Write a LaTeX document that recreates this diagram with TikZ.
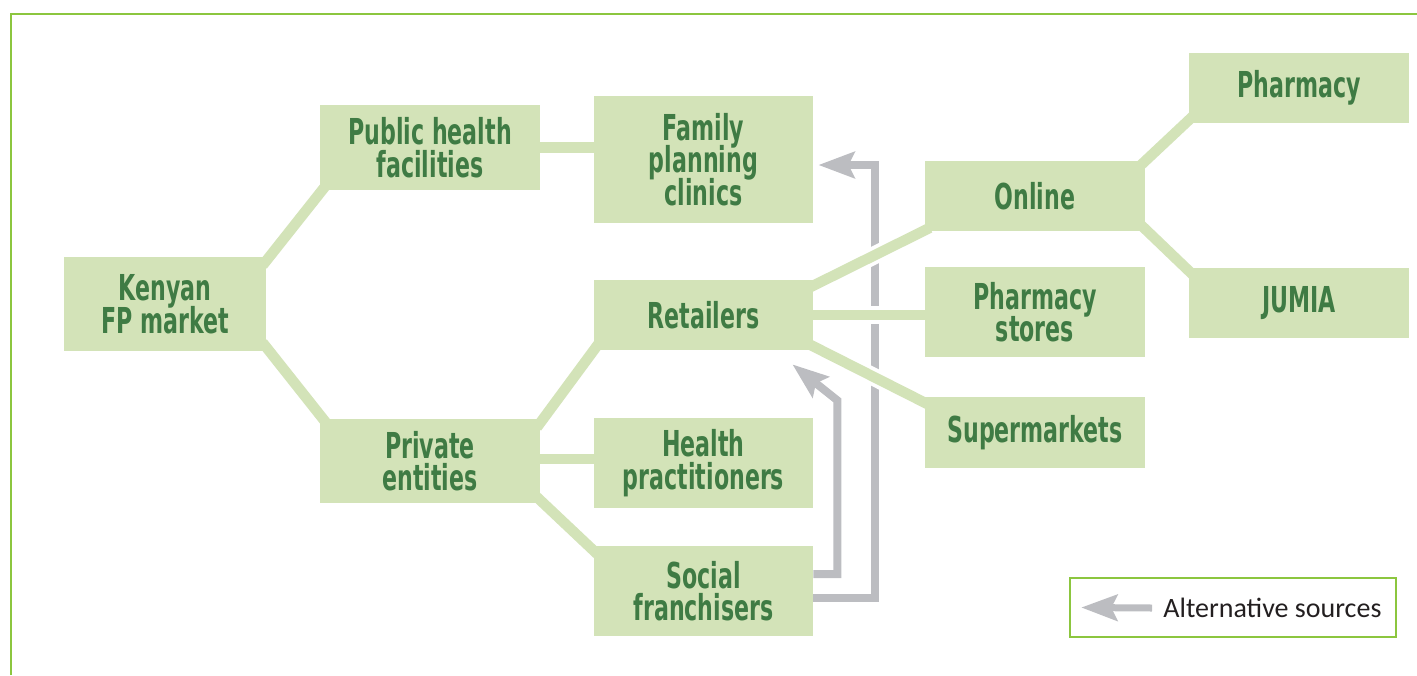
\documentclass[tikz,border=0pt]{standalone}
\usepackage{fontspec}
\usetikzlibrary{arrows.meta,calc}
\newfontfamily\boxfont[FakeStretch=0.62]{DejaVu Sans}
\newfontfamily\legendfont{Carlito}
\newcommand\tightlines{\lineskiplimit=-20pt\relax\lineskip=0pt\relax}
\definecolor{boxgreen}{HTML}{D3E3B8}
\definecolor{textgreen}{HTML}{3F7B44}
\definecolor{framegreen}{HTML}{8CC63F}
\definecolor{altgray}{HTML}{BCBDC1}
\definecolor{legendtext}{HTML}{231F20}
\pgfdeclarelayer{arrowlayer}
\pgfdeclarelayer{linklayer}
\pgfsetlayers{arrowlayer,linklayer,main}
\tikzset{
  mbox/.style={fill=boxgreen, inner sep=0pt, align=center, text=textgreen,
    font=\boxfont\bfseries\fontsize{17.85}{16.3}\selectfont\tightlines},
  link/.style={draw=boxgreen, line width=5.25pt,
    shorten <=-3pt, shorten >=-3pt,
    preaction={draw=white, line width=9pt, shorten <=-3pt, shorten >=-3pt}},
  alt/.style={draw=altgray, line width=4pt, line join=miter,
    -{Stealth[length=18pt,width=13pt,inset=3pt]}},
}
\begin{document}
\begin{tikzpicture}[x=0.5pt,y=-0.5pt]
\useasboundingbox (0,0) rectangle (1417,675);

% outer frame, open to the right and bottom
\draw[framegreen, line width=0.9pt] (11,675) -- (11,14) -- (1417,14);

% market boxes
\node[mbox, minimum width=101pt, minimum height=47pt]   (kenyan)  at (165,304)    {Kenyan\\FP market};
\node[mbox, minimum width=110pt, minimum height=42.5pt] (public)  at (430,147.5)  {Public health\\facilities};
\node[mbox, minimum width=109.5pt, minimum height=63.5pt] (fpc)   at (703.5,159.5) {Family\\planning\\clinics};
\node[mbox, minimum width=110pt, minimum height=42pt]   (private) at (430,461)    {Private\\entities};
\node[mbox, minimum width=109.5pt, minimum height=35pt] (retail)  at (703.5,315)  {Retailers};
\node[mbox, minimum width=109.5pt, minimum height=45pt] (health)  at (703.5,463)  {Health\\practitioners};
\node[mbox, minimum width=109.5pt, minimum height=45pt] (social)  at (703.5,591)  {Social\\franchisers};
\node[mbox, minimum width=110pt, minimum height=35pt]   (online)  at (1035,196)   {Online};
\node[mbox, minimum width=110pt, minimum height=45pt]   (pstores) at (1035,312)   {Pharmacy\\stores};
\node[mbox, minimum width=110pt, minimum height=35.5pt] (super)   at (1035,432.5) {Supermarkets};
\node[mbox, minimum width=110pt, minimum height=35pt]   (pharm)   at (1299,88)    {Pharmacy};
\node[mbox, minimum width=110pt, minimum height=35pt]   (jumia)   at (1299,303)   {JUMIA};

% tree connectors
\begin{pgfonlayer}{linklayer}
\draw[link] ([shift={(0,4)}]kenyan.north east) -- ([shift={(4,-2)}]public.south west);
\draw[link] ([shift={(0,-4)}]kenyan.south east) -- ([shift={(4,1)}]private.north west);
\draw[link] (public.east) -- (fpc.west |- public.east);
\draw[link] ([shift={(0,4)}]private.north east) -- ([shift={(3,-4)}]retail.south west);
\draw[link] ([shift={(0,-2)}]private.east) -- ([shift={(0,-4)}]health.west);
\draw[link] ([shift={(0,-3)}]private.south east) -- ([shift={(0,5)}]social.north west);
\draw[link] ([shift={(0,6)}]retail.north east) -- ([shift={(0,-1)}]online.south west);
\draw[link] (retail.east) -- (pstores.west |- retail.east);
\draw[link] ([shift={(0,-4)}]retail.south east) -- ([shift={(0,6)}]super.north west);
\draw[link] ([shift={(-4,4)}]online.north east) -- ([shift={(2,-5)}]pharm.south west);
\draw[link] ([shift={(-3,-5)}]online.south east) -- ([shift={(2,5)}]jumia.north west);
\end{pgfonlayer}

% alternative sources
\begin{pgfonlayer}{arrowlayer}
\draw[alt] ([shift={(0,7)}]social.east) -| ([shift={(61.5,5.5)}]fpc.east) -- ([shift={(5,5.5)}]fpc.east);
\draw[alt] ([shift={(0,-17)}]social.east) -| ([shift={(24,50)}]retail.south east) -- ([shift={(-21,14)}]retail.south east);
\end{pgfonlayer}

% legend
\node[draw=framegreen, line width=0.75pt, minimum width=163pt, minimum height=29.5pt, inner sep=0pt] (legend) at (1233,607.5) {};
\node[anchor=west, inner sep=0pt, text=legendtext, font=\legendfont\fontsize{14}{16}\selectfont] (legendlabel) at (1163,608) {Alternative sources};
\draw[alt, line width=3.5pt] ([xshift=-5.5pt]legendlabel.west) -- ([shift={(12,0)}]legend.west);
\end{tikzpicture}
\end{document}
